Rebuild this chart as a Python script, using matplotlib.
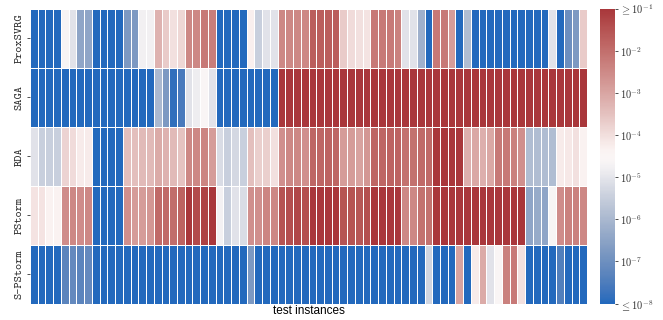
import numpy as np
import matplotlib
matplotlib.use("Agg")
import matplotlib.pyplot as plt
import seaborn as sns
from matplotlib.colors import LogNorm

# Final error reached by each solver on every test instance
solvers = ["ProxSVRG", "SAGA", "RDA", "PStorm", "S-PStorm"]

proxsvrg = [1e-9, 1e-9, 1e-9, 1e-9, 2.3e-5, 8.7e-6, 3.5e-7, 3.5e-7,
            1e-9, 1e-9, 1e-9, 1e-9, 1.8e-7, 1.8e-7, 1.7e-5, 1.7e-5,
            5.8e-4, 2.2e-4, 9.8e-5, 1.35e-4, 3.4e-3, 3.4e-3, 6.5e-3, 5.5e-3,
            1e-9, 1e-9, 1e-9, 1e-9, 5.1e-5, 3.3e-6, 8.7e-6, 8.7e-6,
            3.4e-3, 3.4e-3, 3.4e-3, 3.4e-3, 2e-2, 2e-2, 2e-2, 2e-2,
            2.2e-4, 1.15e-4, 9.8e-5, 8.3e-5, 6.5e-3, 6.5e-3, 6.5e-3, 4.7e-3,
            8.7e-6, 8.7e-6, 6.6e-7, 1e-9, 6.5e-3, 6.5e-3, 1.5e-3, 1e-9,
            1.3e-6, 1e-9, 1e-9, 1e-9, 1e-9, 1e-9, 1e-9, 1e-9,
            1e-9, 1e-9, 1e-9, 8.7e-6, 1e-9, 9.5e-8, 1.8e-7, 2.2e-4]

saga = [1e-9, 1e-9, 1e-9, 1e-9, 1e-9, 1e-9, 1e-9, 1e-9,
        1e-9, 1e-9, 1e-9, 1e-9, 1e-9, 1e-9, 1e-9, 1e-9,
        1.1e-6, 1.8e-7, 1.4e-8, 2.6e-8, 8.7e-6, 1.4e-5, 2.7e-5, 8.7e-6,
        1e-9, 1e-9, 1e-9, 1e-9, 1e-9, 1e-9, 1e-9, 1e-9,
        0.3, 0.3, 0.3, 0.3, 0.3, 0.3, 0.3, 0.3,
        0.3, 0.3, 0.3, 0.3, 0.3, 0.3, 0.3, 0.3,
        0.3, 0.3, 0.3, 0.3, 0.3, 0.3, 0.3, 0.3,
        0.3, 0.3, 0.3, 0.3, 0.3, 0.3, 0.3, 0.3,
        0.3, 0.3, 0.3, 0.3, 0.3, 0.3, 0.3, 0.3]

rda = [8.7e-6, 3.3e-6, 3.3e-6, 3.3e-6, 1.6e-4, 1.15e-4, 6e-5, 6e-5,
       1e-9, 1e-9, 1e-9, 1e-9, 3.5e-4, 3.5e-4, 4.2e-4, 4.2e-4,
       7.9e-4, 5.8e-4, 4.2e-4, 3e-4, 3.4e-3, 3.4e-3, 4e-3, 1.5e-3,
       6.3e-6, 3.3e-6, 5.4e-6, 3.3e-6, 3.5e-4, 1.9e-4, 1.9e-4, 9.8e-5,
       2.5e-3, 3.4e-3, 3.4e-3, 2.5e-3, 1.45e-2, 1.45e-2, 1.7e-2, 1.45e-2,
       1.5e-3, 1.5e-3, 1.1e-3, 1.8e-3, 1.45e-2, 1.45e-2, 1.7e-2, 1.7e-2,
       8.9e-3, 8.9e-3, 1.2e-2, 1.2e-2, 0.3, 0.3, 0.3, 0.3,
       6.8e-4, 9.3e-4, 6.8e-4, 9.3e-4, 6.5e-3, 6.5e-3, 4.7e-3, 2.5e-3,
       1.3e-6, 1.3e-6, 1.3e-6, 1.3e-6, 6e-5, 7e-5, 9.8e-5, 4.4e-5]

pstorm = [8.3e-5, 8.3e-5, 4.4e-5, 4.4e-5, 2.9e-3, 3.4e-3, 2.9e-3, 3.4e-3,
          1e-9, 1e-9, 1e-9, 1e-9, 2.5e-3, 1.5e-3, 1.5e-3, 1.8e-3,
          1.2e-2, 1.2e-2, 1.05e-2, 1.7e-2, 0.3, 4.5e-2, 6.2e-2, 0.3,
          1.9e-5, 3.3e-6, 8.7e-6, 6.3e-6, 2.5e-3, 2.5e-3, 4e-3, 3.4e-3,
          3.2e-2, 3.8e-2, 5.2e-2, 3.8e-2, 0.3, 0.3, 0.3, 0.3,
          3.2e-2, 3.2e-2, 2.75e-2, 3.8e-2, 0.3, 0.3, 0.3, 0.3,
          3.4e-3, 3.4e-3, 8.9e-3, 8.9e-3, 0.3, 0.3, 0.3, 0.3,
          0.3, 0.3, 0.3, 0.3, 0.3, 0.3, 0.3, 0.3,
          3.5e-7, 4.8e-7, 3.5e-7, 2.3e-5, 2.9e-3, 4.7e-3, 4.7e-3, 3.4e-3]

spstorm = [1e-9, 1e-9, 1e-9, 1e-9, 5e-8, 7e-8, 5e-8, 7e-8,
           1e-9, 1e-9, 1e-9, 1e-9, 1e-9, 1e-9, 1e-9, 1e-9,
           1e-9, 1e-9, 1e-9, 1e-9, 1e-9, 1e-9, 1e-9, 1e-9,
           1e-9, 1e-9, 1e-9, 1e-9, 1.8e-7, 1e-9, 1e-9, 1e-9,
           1e-9, 1e-9, 1e-9, 1e-9, 1e-9, 1e-9, 1e-9, 1e-9,
           1e-9, 1e-9, 1e-9, 1e-9, 1e-9, 1e-9, 1e-9, 1e-9,
           1e-9, 1e-9, 1e-9, 4.6e-6, 1e-9, 1e-9, 1e-9, 1.1e-3,
           1e-9, 6e-5, 7.9e-4, 8.7e-6, 2.7e-5, 4.7e-3, 6.5e-3, 9.8e-5,
           1e-9, 1e-9, 1e-9, 1e-9, 3.6e-8, 1e-9, 1e-9, 1e-9]

cbar_ticks = [1e-8, 1e-7, 1e-6, 1e-5, 1e-4, 1e-3, 1e-2, 1e-1]
cbar_labels = [r"$\leq 10^{-8}$", r"$10^{-7}$", r"$10^{-6}$", r"$10^{-5}$",
               r"$10^{-4}$", r"$10^{-3}$", r"$10^{-2}$", r"$\geq 10^{-1}$"]

plt.rcParams["mathtext.fontset"] = "cm"

W, H = 663, 320
fig = plt.figure(figsize=(W / 100, H / 100), dpi=100)
top, bottom = 9, 303.5
ax = fig.add_axes([30 / W, 1 - bottom / H, 557 / W, (bottom - top) / H])
cax = fig.add_axes([600 / W, 1 - bottom / H, 15 / W, (bottom - top) / H])

errors = np.array([proxsvrg, saga, rda, pstorm, spstorm])
sns.heatmap(errors, ax=ax, cbar_ax=cax, cmap="vlag",
            norm=LogNorm(vmin=1e-8, vmax=1e-1),
            linewidths=0.65, linecolor="white",
            xticklabels=False, yticklabels=solvers)

ax.set_yticklabels(solvers, rotation=90, va="center", fontsize=8.5,
                   family="cmtt10")
ax.tick_params(axis="y", length=2, width=0.6, pad=2, colors="#333333",
               labelcolor="#2a2a2a")
ax.set_xlabel("test instances", family="Liberation Sans", fontsize=8.5,
              labelpad=1)

cax.yaxis.set_major_locator(matplotlib.ticker.FixedLocator(cbar_ticks))
cax.yaxis.set_minor_locator(matplotlib.ticker.NullLocator())
cax.set_yticklabels(cbar_labels)
cax.tick_params(axis="y", length=2, width=0.6, pad=1.5, labelsize=7.5,
                colors="#333333")

fig.savefig("out.png", dpi=100)
